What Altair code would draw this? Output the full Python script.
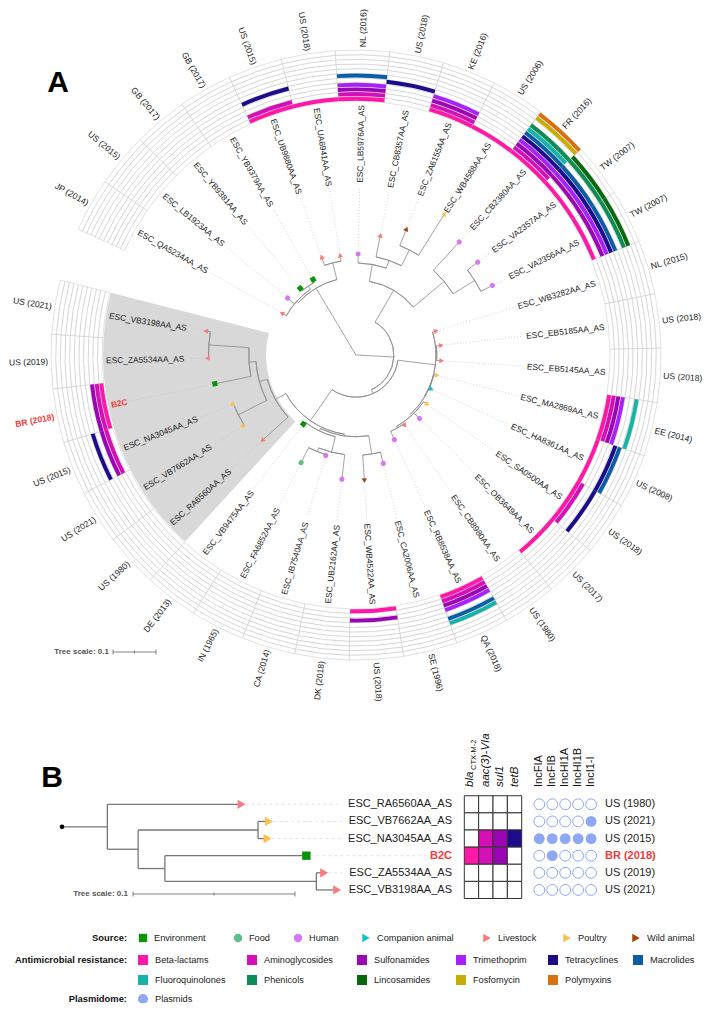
import math
import altair as alt
import pandas as pd

# ------------------------------------------------------------------ data
leaf_names = ["ESC_QA5234AA_AS", "ESC_LB1923AA_AS", "ESC_YB9381AA_AS", "ESC_YB9379AA_AS",
              "ESC_UB9880AA_AS", "ESC_UA6941AA_AS", "ESC_LB5976AA_AS", "ESC_CB8357AA_AS",
              "ESC_ZA6155AA_AS", "ESC_WB4588AA_AS", "ESC_CB2380AA_AS", "ESC_VA2357AA_AS",
              "ESC_VA2356AA_AS", "ESC_WB3282AA_AS", "ESC_EB5185AA_AS", "ESC_EB5145AA_AS",
              "ESC_MA2869AA_AS", "ESC_HA8361AA_AS", "ESC_SA0500AA_AS", "ESC_OB3649AA_AS",
              "ESC_CB8980AA_AS", "ESC_RB8538AA_AS", "ESC_CA2006AA_AS", "ESC_WB4522AA_AS",
              "ESC_UB2162AA_AS", "ESC_IB7540AA_AS", "ESC_FA6852AA_AS", "ESC_VB9475AA_AS",
              "ESC_RA6560AA_AS", "ESC_VB7662AA_AS", "ESC_NA3045AA_AS", "B2C",
              "ESC_ZA5534AA_AS", "ESC_VB3198AA_AS"]
leaf_origin = ["JP (2014)", "US (2015)", "GB (2017)", "GB (2017)", "US (2015)", "US (2018)",
               "NL (2016)", "US (2018)", "KE (2016)", "US (2006)", "FR (2016)", "TW (2007)",
               "TW (2007)", "NL (2015)", "US (2018)", "US (2018)", "EE (2014)", "US (2008)",
               "US (2018)", "US (2017)", "US (1980)", "QA (2018)", "SE (1996)", "US (2018)",
               "DK (2018)", "CA (2014)", "IN (1965)", "DE (2013)", "US (1980)", "US (2021)",
               "US (2015)", "BR (2018)", "US (2019)", "US (2021)"]
leaf_source = ["Livestock", "Human", "Environment", "Environment", "Livestock", "Livestock",
               "Human", "Livestock", "Wild animal", "Poultry", "Human", "Human", "Human",
               "Livestock", "Livestock", "Livestock", "Poultry", "Companion animal", "Poultry",
               "Human", "Livestock", "Human", "Human", "Wild animal", "Human", "Human", "Food",
               "Environment", "Livestock", "Poultry", "Poultry", "Environment", "Livestock",
               "Livestock"]
leaf_dist = [0.198, 0.207, 0.202, 0.202, 0.242, 0.235, 0.235, 0.284, 0.316, 0.388, 0.356,
             0.356, 0.356, 0.195, 0.200, 0.200, 0.195, 0.193, 0.202, 0.209, 0.200, 0.216,
             0.260, 0.293, 0.291, 0.244, 0.281, 0.202, 0.295, 0.312, 0.311, 0.335, 0.346, 0.354]
leaf_parent = ["A1", "A1", "A1c", "A1c", "A2", "A2", "B1", "B1b", "B1c", "B1c", "B2", "B2b",
               "B2b", "C", "C1", "C1", "C2", "C2", "C3", "C3", "C4", "C4", "D1a", "D1a", "D1c",
               "D1d", "D1d", "D1b", "E", "E3", "E3", "E4", "E5", "E5"]
node_names = ["root", "A", "A1", "A1c", "A2", "M", "B", "B1", "B1b", "B1c", "B2", "B2b", "M2",
              "C", "C1", "C2", "C3", "C4", "D", "D1", "D1a", "D1b", "D1c", "D1d", "E", "E2",
              "E3", "E4", "E5"]
node_parent = ["", "root", "A", "A1", "A", "root", "M", "B", "B1", "B1b", "B", "B2", "M",
               "M2", "C", "C", "C2", "C3", "M2", "D", "D1", "D1", "D1b", "D1c", "D", "E",
               "E2", "E2", "E4"]
node_dist = [0.0, 0.181, 0.186, 0.195, 0.221, 0.088, 0.174, 0.214, 0.233, 0.274, 0.267, 0.326,
             0.098, 0.186, 0.188, 0.187, 0.191, 0.195, 0.186, 0.190, 0.233, 0.196, 0.233,
             0.242, 0.214, 0.233, 0.307, 0.2495, 0.343]
amr_classes = ["Beta-lactams", "Aminoglycosides", "Sulfonamides", "Trimethoprim",
               "Tetracyclines", "Macrolides", "Fluoroquinolones", "Phenicols", "Lincosamides",
               "Fosfomycin", "Polymyxins"]
leaf_amr = [[], [], [], [], [0, 1, 4], [0], [0, 1, 2, 3, 5], [4], [0, 1, 2, 3], [0],
            [0, 1, 2, 3, 4, 5, 6, 7, 9, 10], [0, 2, 3, 4, 5, 7, 8], [0, 2, 3, 4, 5, 7, 8],
            [], [], [], [0, 1, 2, 3, 6], [0, 4, 5], [0, 1, 4], [0], [], [0, 1, 2, 3, 5, 6],
            [], [0, 2], [], [], [], [], [], [], [1, 2, 4], [0, 1, 2], [], []]
highlight = ["B2C"]

# panel B
b_clade_root = "D"
b_leaf_index = [28, 29, 30, 31, 32, 33]
b_genes = ["bla", "aac(3)-VIa", "sul1", "tetB"]
b_gene_sub = ["CTX-M-2", "", "", ""]
b_gene_class = ["Beta-lactams", "Aminoglycosides", "Sulfonamides", "Tetracyclines"]
b_gene_hits = [[0, 0, 0, 0], [0, 0, 0, 0], [0, 1, 1, 1], [1, 1, 1, 0], [0, 0, 0, 0], [0, 0, 0, 0]]
b_plasmids = ["IncFIA", "IncFIB", "IncHI1A", "IncHI1B", "IncI1-I"]
b_plasmid_hits = [[0, 0, 0, 0, 0], [0, 0, 0, 0, 1], [1, 1, 1, 1, 1], [0, 1, 0, 0, 0],
                  [0, 0, 0, 0, 0], [0, 0, 0, 0, 0]]

# legend
source_levels = ["Environment", "Food", "Human", "Companion animal", "Livestock", "Poultry",
                 "Wild animal"]
tree_scale_value = 0.1

# ------------------------------------------------------------------ styles
source_color = {"Environment": "#0a940a", "Food": "#5dbf86", "Human": "#d678f2",
                "Companion animal": "#14bfd0", "Livestock": "#f77c7c", "Poultry": "#fbc14b",
                "Wild animal": "#a3460e"}
source_shape = {"Environment": "square", "Food": "circle", "Human": "circle",
                "Companion animal": "triangle-right", "Livestock": "triangle-right",
                "Poultry": "triangle-right", "Wild animal": "triangle-right"}
amr_color = {"Beta-lactams": "#ff18a8", "Aminoglycosides": "#d30fb5", "Sulfonamides": "#9a05b4",
             "Trimethoprim": "#a821f8", "Tetracyclines": "#1c0c8c", "Macrolides": "#0d5da6",
             "Fluoroquinolones": "#17b3a6", "Phenicols": "#0b8d55", "Lincosamides": "#07690b",
             "Fosfomycin": "#c6ad06", "Polymyxins": "#d9700f"}
PLASMID_COLOR = "#8fa8f5"
RED = "#f23c3c"
TEXT = "#222222"
FONT = "Liberation Sans"

# layout
W, H = 695, 995
CX, CY = 356, 355
PX_A = 430.0
A0, STEP = 299.5, 10.29
HALF = STEP / 2
RING_R0, TRACK_W = 254.0, 4.64
LEAF_LABEL_R, ORIGIN_LABEL_R = 250.0, 308.0

B_ROOT_X, PX_B = 62.0, 1620.0
B_ROW0, B_ROW_H = 804.3, 17.13
NAME_X = 452.0
HEAT_X0, CELL_W = 464.3, 14.35
PLAS_X0, PLAS_DX = 539.3, 12.95
ORIG_B_X = 605.0
HEAD_Y = 787.0

XS = alt.Scale(domain=[8, 8 + W], nice=False, zero=False)
YS = alt.Scale(domain=[8, 8 + H], reverse=True, nice=False, zero=False)
RS = alt.Scale(type="linear", domain=[0, 400], range=[0, 400], zero=True, nice=False)
TS = alt.Scale(domain=[0, 360], range=[0, 2 * math.pi], nice=False, zero=False)


def xq(f):
    return alt.X(f, type="quantitative", scale=XS, axis=None)


def yq(f):
    return alt.Y(f, type="quantitative", scale=YS, axis=None)


def polar(r, a):
    t = math.radians(a)
    return CX + r * math.sin(t), CY - r * math.cos(t)


def rule_layer(rows, color, width, dash=None):
    kw = dict(color=color, strokeWidth=width)
    if dash:
        kw["strokeDash"] = dash
    return alt.Chart(pd.DataFrame(rows)).mark_rule(**kw).encode(
        x=xq("x1"), y=yq("y1"), x2="x2", y2="y2")


def text_layer(rows, size, align, color=TEXT, weight="normal", italic=False):
    kw = dict(fontSize=size, align=align, baseline="middle", color=color, fontWeight=weight,
              font=FONT)
    if italic:
        kw["fontStyle"] = "italic"
    return alt.Chart(pd.DataFrame(rows)).mark_text(**kw).encode(
        x=xq("x"), y=yq("y"), text="text:N",
        angle=alt.Angle("rot", type="quantitative", scale=None))


def point_layer(rows, filled=True, sw=0.0):
    return alt.Chart(pd.DataFrame(rows)).mark_point(filled=filled, opacity=1, strokeWidth=sw).encode(
        x=xq("x"), y=yq("y"),
        shape=alt.Shape("shape", type="nominal", scale=None),
        color=alt.Color("col", type="nominal", scale=None),
        size=alt.Size("size", type="quantitative", scale=None),
        angle=alt.Angle("rot", type="quantitative", scale=None))


def arc_layer(rows, **mark):
    df = pd.DataFrame(rows)
    df["cx"], df["cy"] = CX, CY
    enc = dict(x=xq("cx"), y=yq("cy"),
               theta=alt.Theta("t0", type="quantitative", scale=TS, stack=None),
               theta2=alt.Theta2("t1"),
               radius=alt.Radius("r0", type="quantitative", scale=RS),
               radius2=alt.Radius2("r1"))
    if "col" in df.columns:
        enc["color"] = alt.Color("col", type="nominal", scale=None)
    return alt.Chart(df).mark_arc(**mark).encode(**enc)


layers = []

# ------------------------------------------------------------------ tree structure
leaf_ang = [A0 + STEP * i for i in range(len(leaf_names))]
ndist = dict(zip(node_names, node_dist))
kids = {n: [] for n in node_names}
for i, p in enumerate(leaf_parent):
    kids[p].append(("L", i))
for n, p in zip(node_names, node_parent):
    if p:
        kids[p].append(("N", n))


def first_leaf(item):
    k, v = item
    return v if k == "L" else min(first_leaf(c) for c in kids[v])


for n in kids:
    kids[n].sort(key=first_leaf)


def angle_of(item):
    k, v = item
    if k == "L":
        return leaf_ang[v]
    ch = kids[v]
    return (angle_of(ch[0]) + angle_of(ch[-1])) / 2


def dist_of(item):
    k, v = item
    return leaf_dist[v] if k == "L" else ndist[v]


# ------------------------------------------------------------------ panel A
clade_leaves = b_leaf_index
layers.append(arc_layer([dict(t0=leaf_ang[clade_leaves[0]] - HALF,
                              t1=leaf_ang[clade_leaves[-1]] + HALF,
                              r0=ndist["E"] * PX_A - 2, r1=LEAF_LABEL_R + 3)],
                        color="#d8d8d8"))

grid, cells = [], []
for i, a in enumerate(leaf_ang):
    for k, cls in enumerate(amr_classes):
        r0 = RING_R0 + k * TRACK_W
        grid.append(dict(t0=a - HALF, t1=a + HALF, r0=r0, r1=r0 + TRACK_W))
        if k in leaf_amr[i]:
            cells.append(dict(t0=a - HALF, t1=a + HALF, r0=r0 + 0.35, r1=r0 + TRACK_W - 0.35,
                              col=amr_color[cls]))
layers.append(arc_layer(grid, fill="white", stroke="#c4c4c4", strokeWidth=0.5))
layers.append(arc_layer(cells))

lead = []
for i, a in enumerate(leaf_ang):
    w = 17 if leaf_names[i] in highlight else 8.4 * 9.4
    r_start = LEAF_LABEL_R - w - 3
    r_tip = leaf_dist[i] * PX_A + 4
    if r_start > r_tip + 3:
        x1, y1 = polar(r_tip, a)
        x2, y2 = polar(r_start, a)
        lead.append(dict(x1=x1, y1=y1, x2=x2, y2=y2))
layers.append(rule_layer(lead, "#b8b8b8", 0.6, [1, 2]))

segs, arcs = [], []
for n in node_names:
    ch = kids[n]
    rn = ndist[n] * PX_A
    for c in ch:
        a = angle_of(c)
        x1, y1 = polar(rn, a)
        x2, y2 = polar(dist_of(c) * PX_A, a)
        segs.append(dict(x1=x1, y1=y1, x2=x2, y2=y2))
    if rn > 0:
        arcs.append(dict(t0=angle_of(ch[0]), t1=angle_of(ch[-1]), r0=rn, r1=rn))
layers.append(rule_layer(segs, "#8c8c8c", 0.8))
layers.append(arc_layer(arcs, fillOpacity=0, stroke="#8c8c8c", strokeWidth=0.8))

marks = []
for i, a in enumerate(leaf_ang):
    x, y = polar(leaf_dist[i] * PX_A, a)
    s = leaf_source[i]
    marks.append(dict(x=x, y=y, shape=source_shape[s], col=source_color[s],
                      size=26 if source_shape[s] != "triangle-right" else 30,
                      rot=(a - 90) % 360))
layers.append(point_layer(marks))

groups = {}
for i, a in enumerate(leaf_ang):
    an = a % 360
    right = an < 180
    hl = leaf_names[i] in highlight
    rot = (an - 90) % 360 if right else (an - 270) % 360
    x, y = polar(LEAF_LABEL_R, an)
    groups.setdefault(("leaf", right, hl), []).append(dict(x=x, y=y, text=leaf_names[i], rot=rot))
    x, y = polar(ORIGIN_LABEL_R, an)
    groups.setdefault(("orig", right, hl), []).append(dict(x=x, y=y, text=leaf_origin[i], rot=rot))
for (kind, right, hl), rows in groups.items():
    if kind == "leaf":
        align = "right" if right else "left"
        size = 8.4
    else:
        align = "left" if right else "right"
        size = 8.6
    layers.append(text_layer(rows, size, align, RED if hl else TEXT, "bold" if hl else "normal"))

sx0, sy = 113.0, 652.0
sx1 = sx0 + tree_scale_value * PX_A
layers.append(rule_layer([dict(x1=sx0, y1=sy, x2=sx1, y2=sy),
                          dict(x1=sx0, y1=sy - 2.5, x2=sx0, y2=sy + 2.5),
                          dict(x1=sx1, y1=sy - 2.5, x2=sx1, y2=sy + 2.5),
                          dict(x1=(sx0 + sx1) / 2, y1=sy - 1.5, x2=(sx0 + sx1) / 2, y2=sy + 1.5)],
                         "#666666", 0.8))
layers.append(text_layer([dict(x=sx0 - 4, y=sy, text=f"Tree scale: {tree_scale_value}", rot=0)],
                         8, "right", "#555555", "bold"))

layers.append(text_layer([dict(x=58, y=83, text="A", rot=0), dict(x=52, y=778, text="B", rot=0)],
                         30, "center", "#000000", "bold"))

# ------------------------------------------------------------------ panel B
b_row = {li: B_ROW0 + r * B_ROW_H for r, li in enumerate(b_leaf_index)}
d0 = ndist[b_clade_root]


def bx(item):
    return B_ROOT_X + (dist_of(item) - d0) * PX_B


def by(item):
    k, v = item
    if k == "L":
        return b_row[v]
    ch = kids[v]
    return (by(ch[0]) + by(ch[-1])) / 2


clade_top = ("N", "E")
bsegs = [dict(x1=B_ROOT_X, y1=by(clade_top), x2=bx(clade_top), y2=by(clade_top))]


def walk(item):
    k, v = item
    if k == "L":
        return
    ch = kids[v]
    xn = bx(item)
    bsegs.append(dict(x1=xn, y1=by(ch[0]), x2=xn, y2=by(ch[-1])))
    for c in ch:
        bsegs.append(dict(x1=xn, y1=by(c), x2=bx(c), y2=by(c)))
        walk(c)


walk(clade_top)
layers.append(rule_layer(bsegs, "#777777", 1.3))
layers.append(point_layer([dict(x=B_ROOT_X, y=by(clade_top), shape="circle", col="#000000",
                                size=22, rot=0)]))

blead, bmarks, bnames, bnames_hl = [], [], [], []
for li in b_leaf_index:
    y = b_row[li]
    tx = bx(("L", li))
    hl = leaf_names[li] in highlight
    w = 22 if hl else 7.05 * len(leaf_names[li])
    blead.append(dict(x1=tx + 7, y1=y, x2=NAME_X - w - 4, y2=y))
    s = leaf_source[li]
    bmarks.append(dict(x=tx + 3, y=y, shape=source_shape[s], col=source_color[s],
                       size=70 if source_shape[s] != "triangle-right" else 85, rot=0))
    (bnames_hl if hl else bnames).append(dict(x=NAME_X, y=y, text=leaf_names[li], rot=0))
layers.append(rule_layer(blead, "#dddddd", 0.8, [3, 3]))
layers.append(point_layer(bmarks))
layers.append(text_layer(bnames, 11, "right"))
layers.append(text_layer(bnames_hl, 11, "right", RED, "bold"))

heat = []
for r, li in enumerate(b_leaf_index):
    for c, g in enumerate(b_genes):
        heat.append(dict(x1=HEAT_X0 + c * CELL_W, x2=HEAT_X0 + (c + 1) * CELL_W,
                         y1=B_ROW0 + (r - 0.5) * B_ROW_H, y2=B_ROW0 + (r + 0.5) * B_ROW_H,
                         col=amr_color[b_gene_class[c]] if b_gene_hits[r][c] else "#ffffff"))
layers.append(alt.Chart(pd.DataFrame(heat)).mark_rect(stroke="#333333", strokeWidth=1).encode(
    x=xq("x1"), x2="x2", y=yq("y1"), y2="y2",
    color=alt.Color("col", type="nominal", scale=None)))

head_main, head_sub = [], []
for c, g in enumerate(b_genes):
    xc = HEAT_X0 + (c + 0.5) * CELL_W
    head_main.append(dict(x=xc - (1.5 if b_gene_sub[c] else 0), y=HEAD_Y, text=g, rot=270))
    if b_gene_sub[c]:
        head_sub.append(dict(x=xc + 2.5, y=HEAD_Y - 17, text=b_gene_sub[c], rot=270))
layers.append(text_layer(head_main, 11.5, "left", "#111111", italic=True))
layers.append(text_layer(head_sub, 7.5, "left", "#111111"))

pl_on, pl_off, pl_head = [], [], []
for c, p in enumerate(b_plasmids):
    xc = PLAS_X0 + c * PLAS_DX
    pl_head.append(dict(x=xc, y=HEAD_Y, text=p, rot=270))
    for r, li in enumerate(b_leaf_index):
        row = dict(x=xc, y=B_ROW0 + r * B_ROW_H, shape="circle", col=PLASMID_COLOR,
                   size=118, rot=0)
        (pl_on if b_plasmid_hits[r][c] else pl_off).append(row)
layers.append(point_layer(pl_on))
layers.append(point_layer(pl_off, filled=False, sw=1.0))
layers.append(text_layer(pl_head, 11, "left", "#111111"))

borig, borig_hl = [], []
for li in b_leaf_index:
    hl = leaf_names[li] in highlight
    (borig_hl if hl else borig).append(dict(x=ORIG_B_X, y=b_row[li], text=leaf_origin[li], rot=0))
layers.append(text_layer(borig, 11, "left"))
layers.append(text_layer(borig_hl, 11, "left", RED, "bold"))

tx0, ty = 133.0, 894.0
tx1 = tx0 + tree_scale_value * PX_B
layers.append(rule_layer([dict(x1=tx0, y1=ty, x2=tx1, y2=ty),
                          dict(x1=tx0, y1=ty - 2.5, x2=tx0, y2=ty + 2.5),
                          dict(x1=tx1, y1=ty - 2.5, x2=tx1, y2=ty + 2.5),
                          dict(x1=(tx0 + tx1) / 2, y1=ty - 1.5, x2=(tx0 + tx1) / 2, y2=ty + 1.5)],
                         "#666666", 0.8))
layers.append(text_layer([dict(x=tx0 - 5, y=ty, text=f"Tree scale: {tree_scale_value}", rot=0)],
                         8, "right", "#555555", "bold"))

# ------------------------------------------------------------------ legend
LBL_X = 127.0
ROW_Y = [938.0, 960.0, 980.0, 999.0]
src_x = [143, 238, 298, 366, 487, 567, 636]
amr_x = [143, 252, 362, 461, 553, 638]
leg_marks, leg_text = [], []
for s, x in zip(source_levels, src_x):
    leg_marks.append(dict(x=x, y=ROW_Y[0], shape=source_shape[s], col=source_color[s],
                          size=75 if source_shape[s] == "triangle-right" else 70, rot=0))
    leg_text.append(dict(x=x + 11, y=ROW_Y[0], text=s, rot=0))
for j, cls in enumerate(amr_classes):
    row = 1 if j < 6 else 2
    x = amr_x[j if j < 6 else j - 6]
    leg_marks.append(dict(x=x, y=ROW_Y[row], shape="square", col=amr_color[cls], size=100, rot=0))
    leg_text.append(dict(x=x + 12, y=ROW_Y[row], text=cls, rot=0))
leg_marks.append(dict(x=143, y=ROW_Y[3], shape="circle", col=PLASMID_COLOR, size=100, rot=0))
leg_text.append(dict(x=155, y=ROW_Y[3], text="Plasmids", rot=0))
layers.append(point_layer(leg_marks))
layers.append(text_layer(leg_text, 9.2, "left"))
layers.append(text_layer([dict(x=LBL_X, y=ROW_Y[0], text="Source:", rot=0),
                          dict(x=LBL_X, y=ROW_Y[1], text="Antimicrobial resistance:", rot=0),
                          dict(x=LBL_X, y=ROW_Y[3], text="Plasmidome:", rot=0)],
                         9.4, "right", "#111111", "bold"))

chart = alt.layer(*layers).properties(
    width=W, height=H, padding=0, autosize=alt.AutoSizeParams(type="none")
).configure_view(stroke=None).configure_text(font=FONT)

chart.save("out.html", embed_options={"renderer": "svg", "actions": False})
